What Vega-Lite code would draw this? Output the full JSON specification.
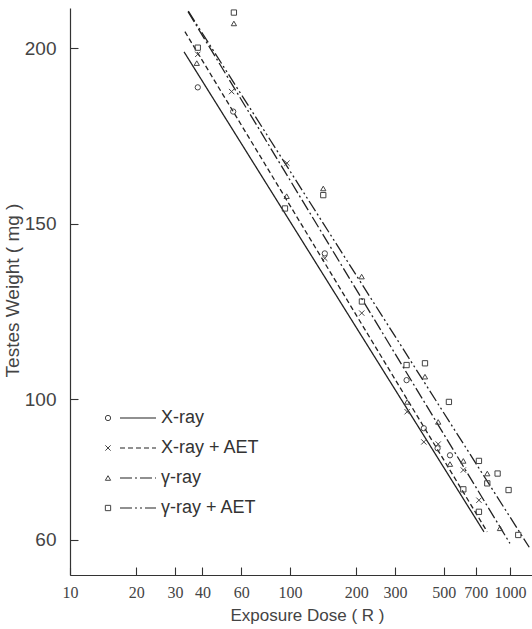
{
  "$schema": "https://vega.github.io/schema/vega-lite/v6.json",
  "width": 462,
  "height": 567,
  "autosize": {"type": "none"},
  "padding": {"left": 70, "top": 8, "right": 0, "bottom": 54},
  "background": "white",
  "config": {
    "view": {"stroke": null},
    "axis": {"grid": false, "domainColor": "#333", "domainWidth": 1.2, "tickColor": "#333", "tickWidth": 1.1, "labelColor": "#444", "titleColor": "#444", "titleFontWeight": "normal"}
  },
  "datasets": {
    "lines": [
      {"line": "X-ray", "dose": 33.0, "weight": 199.0},
      {"line": "X-ray", "dose": 762, "weight": 62.3},
      {"line": "X-ray + AET", "dose": 33.3, "weight": 204.75},
      {"line": "X-ray + AET", "dose": 788.6, "weight": 62.3},
      {"line": "γ-ray", "dose": 34.4, "weight": 210.45},
      {"line": "γ-ray", "dose": 1000, "weight": 59.0},
      {"line": "γ-ray + AET", "dose": 34.5, "weight": 210.6},
      {"line": "γ-ray + AET", "dose": 1224, "weight": 57.9}
    ],
    "pts": [
      {"group": "X-ray", "dose": 38.1, "weight": 188.9},
      {"group": "X-ray", "dose": 55.2, "weight": 182.0},
      {"group": "X-ray", "dose": 144, "weight": 141.6},
      {"group": "X-ray", "dose": 339, "weight": 105.5},
      {"group": "X-ray", "dose": 406, "weight": 91.8},
      {"group": "X-ray", "dose": 469, "weight": 86.1},
      {"group": "X-ray", "dose": 534, "weight": 84.1},
      {"group": "X-ray + AET", "dose": 38.1, "weight": 198.3},
      {"group": "X-ray + AET", "dose": 54.3, "weight": 187.7},
      {"group": "X-ray + AET", "dose": 96.9, "weight": 167.3},
      {"group": "X-ray + AET", "dose": 144, "weight": 140.2},
      {"group": "X-ray + AET", "dose": 212, "weight": 124.6},
      {"group": "X-ray + AET", "dose": 341, "weight": 96.5},
      {"group": "X-ray + AET", "dose": 406, "weight": 87.9},
      {"group": "X-ray + AET", "dose": 472, "weight": 87.3},
      {"group": "X-ray + AET", "dose": 614, "weight": 79.9},
      {"group": "X-ray + AET", "dose": 723, "weight": 71.3},
      {"group": "γ-ray", "dose": 37.7, "weight": 195.8},
      {"group": "γ-ray", "dose": 55.6, "weight": 207.1},
      {"group": "γ-ray", "dose": 96.6, "weight": 157.9},
      {"group": "γ-ray", "dose": 141.7, "weight": 160.1},
      {"group": "γ-ray", "dose": 211.8, "weight": 135.0},
      {"group": "γ-ray", "dose": 341, "weight": 99.3},
      {"group": "γ-ray", "dose": 411, "weight": 106.5},
      {"group": "γ-ray", "dose": 472, "weight": 93.6},
      {"group": "γ-ray", "dose": 534, "weight": 81.6},
      {"group": "γ-ray", "dose": 614, "weight": 82.5},
      {"group": "γ-ray", "dose": 789, "weight": 78.9},
      {"group": "γ-ray", "dose": 901, "weight": 63.3},
      {"group": "γ-ray + AET", "dose": 38.1, "weight": 200.2},
      {"group": "γ-ray + AET", "dose": 55.6, "weight": 210.2},
      {"group": "γ-ray + AET", "dose": 94.9, "weight": 154.4},
      {"group": "γ-ray + AET", "dose": 141.7, "weight": 158.2},
      {"group": "γ-ray + AET", "dose": 212.4, "weight": 127.9},
      {"group": "γ-ray + AET", "dose": 339, "weight": 109.8},
      {"group": "γ-ray + AET", "dose": 411, "weight": 110.3},
      {"group": "γ-ray + AET", "dose": 528, "weight": 99.3},
      {"group": "γ-ray + AET", "dose": 614, "weight": 74.4},
      {"group": "γ-ray + AET", "dose": 723, "weight": 82.5},
      {"group": "γ-ray + AET", "dose": 723, "weight": 68.0},
      {"group": "γ-ray + AET", "dose": 789, "weight": 76.1},
      {"group": "γ-ray + AET", "dose": 879, "weight": 78.9},
      {"group": "γ-ray + AET", "dose": 986, "weight": 74.2},
      {"group": "γ-ray + AET", "dose": 1091, "weight": 61.4}
    ]
  },
  "encoding": {
    "x": {
      "field": "dose", "type": "quantitative",
      "scale": {"type": "log", "domain": [10, 1260], "nice": false},
      "axis": {
        "title": "Exposure  Dose ( R )",
        "values": [10, 20, 30, 40, 60, 100, 200, 300, 500, 700, 1000],
        "format": "d",
        "tickSize": -8,
        "labelPadding": 17,
        "labelFont": "Liberation Sans Narrow",
        "labelFontSize": 16,
        "labelFlush": false,
        "labelOverlap": false,
        "titleFont": "Liberation Sans",
        "titleFontSize": 17,
        "titleX": 237,
        "titleY": 45,
        "titleBaseline": "alphabetic",
        "titleAnchor": "middle",
        "titleAlign": "center"
      }
    },
    "y": {
      "field": "weight", "type": "quantitative",
      "scale": {"domain": [50, 211.5], "nice": false, "zero": false},
      "axis": {
        "title": "Testes Weight ( mg )",
        "values": [60, 100, 150, 200],
        "tickSize": -8,
        "labelPadding": 22,
        "labelFont": "Liberation Sans",
        "labelFontSize": 19,
        "titleFont": "Liberation Sans",
        "titleFontSize": 19,
        "titleX": -48,
        "titleY": 282,
        "titleAngle": -90,
        "titleAlign": "center",
        "titleBaseline": "bottom"
      }
    }
  },
  "layer": [
    {
      "data": {"name": "lines"},
      "mark": {"type": "line", "color": "#222", "strokeWidth": 1.3},
      "encoding": {
        "strokeDash": {
          "field": "line", "type": "nominal",
          "scale": {"range": [[1, 0], [5, 3], [12, 3, 2, 3], [12, 3, 2, 3, 2, 3]]},
          "legend": {
            "orient": "none", "legendX": 59, "legendY": 401, "title": null,
            "labelFont": "Liberation Sans", "labelFontSize": 18, "labelColor": "#333",
            "symbolType": "M-3,0L3,0", "symbolSize": 144, "symbolStrokeColor": "#222",
            "symbolStrokeWidth": 1.2, "labelOffset": 14, "rowPadding": 12, "padding": 0
          }
        }
      }
    },
    {
      "data": {"name": "pts"},
      "mark": {"type": "point", "filled": false, "color": "#444", "size": 28, "strokeWidth": 1, "opacity": 1},
      "encoding": {
        "shape": {
          "field": "group", "type": "nominal",
          "scale": {"range": ["circle", "M-1,-1L1,1M-1,1L1,-1", "triangle-up", "square"]},
          "legend": {
            "orient": "none", "legendX": 29, "legendY": 401, "title": null,
            "labelFont": "Liberation Sans", "labelFontSize": 18, "labelExpr": "''",
            "symbolSize": 28, "symbolStrokeColor": "#444", "symbolStrokeWidth": 1,
            "symbolFillColor": "transparent", "rowPadding": 12, "padding": 0
          }
        }
      }
    }
  ]
}
